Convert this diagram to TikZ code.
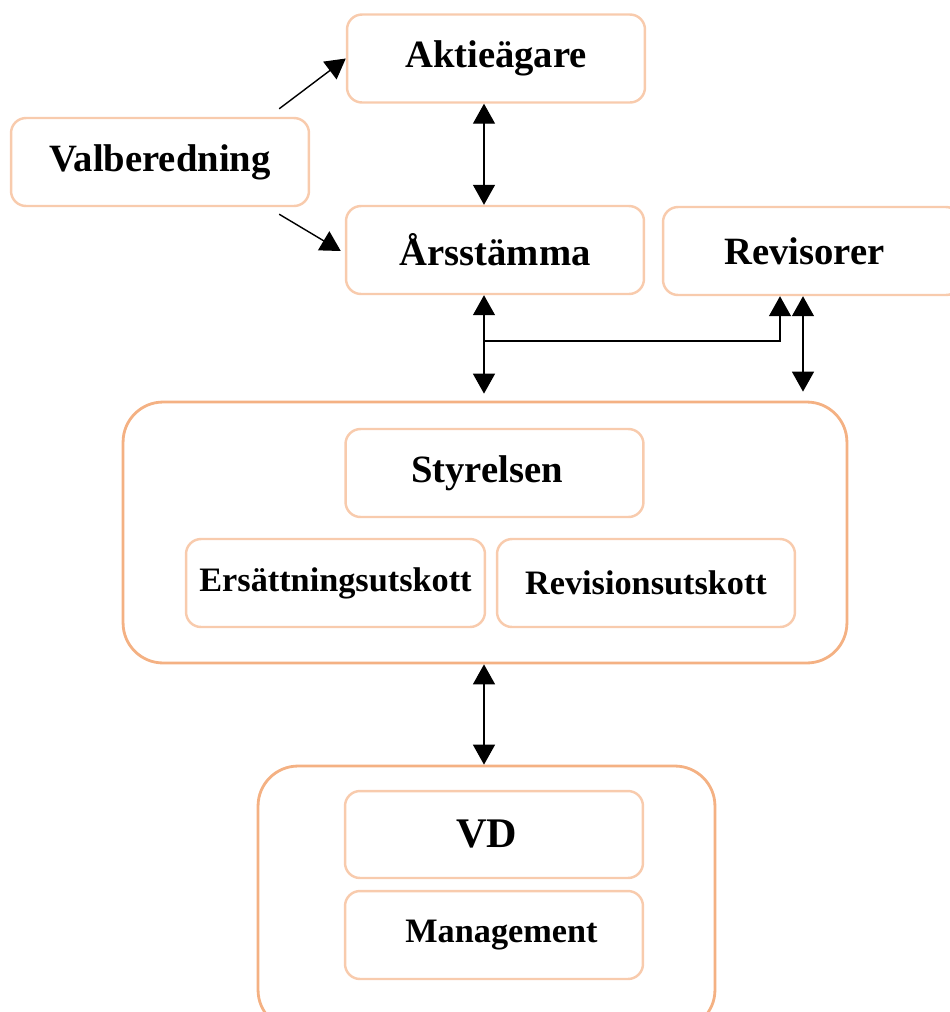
\documentclass[tikz,border=0pt]{standalone}
\usepackage{fontspec}
\setmainfont{Liberation Serif}
\usetikzlibrary{arrows.meta, calc}

\definecolor{peach}{HTML}{F8CBAD}
\definecolor{peachdark}{HTML}{F4B183}

\begin{document}
\begin{tikzpicture}[x=0.02cm, y=-0.02cm,
		box/.style={draw=peach, line width=1.4pt, rounded corners=0.3cm, inner sep=0pt,
			minimum width=5.96cm, minimum height=1.76cm,
			font=\fontsize{22}{26}\selectfont\bfseries},
		smallbox/.style={box, font=\fontsize{19.5}{23}\selectfont\bfseries},
		group/.style={draw=peachdark, line width=1.6pt, rounded corners=0.8cm, inner sep=0pt},
		tip/.tip={Triangle[width=0.44cm, length=0.4cm]},
		link/.style={line width=0.8pt, -tip},
		twoway/.style={line width=0.8pt, tip-tip}]
	\useasboundingbox (0,0) rectangle (950,1012);
	\clip (0,0) rectangle (950,1012);
	
	% Outer frames for board and management
	\node[group, minimum width=14.48cm, minimum height=5.22cm] (board) at (485,532.5) {};
	\node[group, minimum width=9.14cm, minimum height=5.28cm] (exec) at (486.5,898) {};
	
	% Top level
	\node[box] (akt) at (496,58.5) {Aktieägare};
	\node[box] (val) at (160,162) {Valberedning};
	\node[box] (ars) at (495,250) {Årsstämma};
	\node[box] (rev) at (812,251) {\hspace*{-0.3cm}Revisorer};
	
	% Board and its committees
	\node[box] (sty) at (494.5,473) {\hspace*{-0.3cm}Styrelsen};
	\node[smallbox, minimum width=5.98cm] (ers) at (335.5,583) {Ersättningsutskott};
	\node[smallbox] (rvu) at (646,583) {Revisionsutskott};
	
	% CEO and management
	\node[box, minimum height=1.74cm, font=\fontsize{24}{28}\selectfont\bfseries] (vd) at (494,834.5) {\hspace*{-0.3cm}VD};
	\node[smallbox] (mgmt) at (494,935) {\hspace*{0.3cm}Management};
	
	% Vertical lines used by the connectors
	\coordinate (spine) at (484,0);
	\coordinate (audit) at (780,0);
	\coordinate (auditb) at (803,0);
	\coordinate (tap) at (484,341);
	
	% Nomination committee
	\draw[link] ($(val.north east)+(-31,-8)$) -- (akt.west);
	\draw[link] ($(val.south east)+(-31,7)$) -- ($(ars.west)+(-4,1)$);
	
	% Main chain
	\draw[twoway] (akt.south -| spine) -- (ars.north -| spine);
	\draw[twoway, shorten >=0.14cm] (ars.south -| spine) -- (board.north -| spine);
	\draw[twoway] (board.south -| spine) -- (exec.north -| spine);
	
	% Auditors
	\draw[link] (tap) -| (rev.south -| audit);
	\draw[twoway, shorten >=0.18cm] (rev.south -| auditb) -- (board.north -| auditb);
	
\end{tikzpicture}
\end{document}
